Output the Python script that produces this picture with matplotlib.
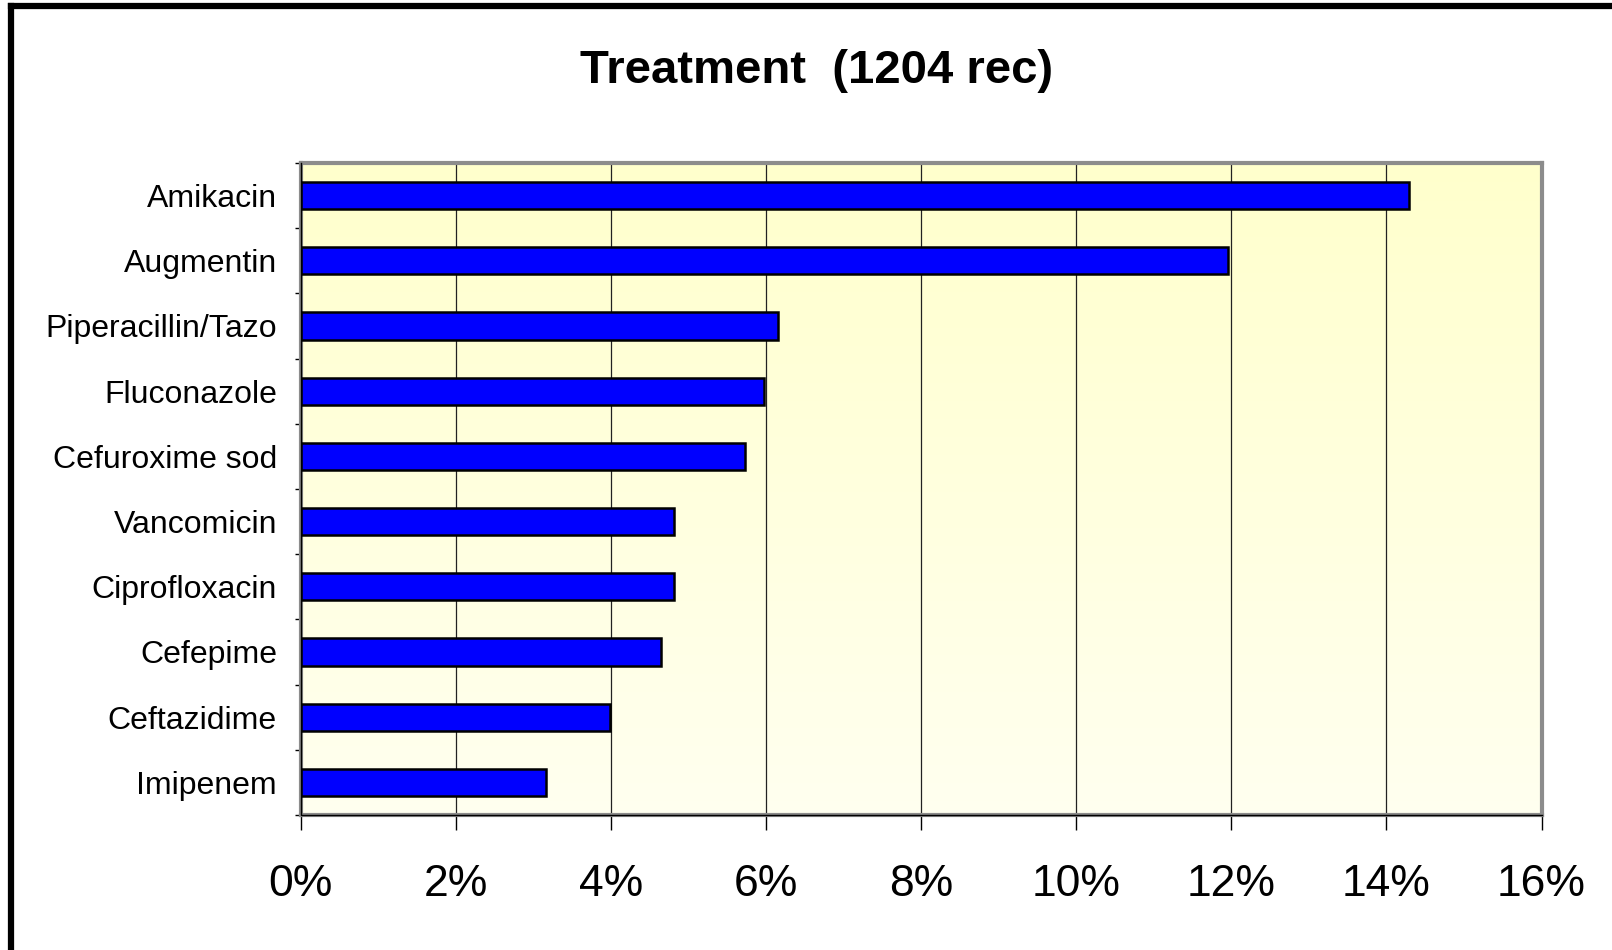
import matplotlib
matplotlib.use("Agg")
import matplotlib.pyplot as plt
from matplotlib.lines import Line2D
from matplotlib.ticker import PercentFormatter, FixedLocator
import numpy as np

plt.rcParams['font.family'] = ['Liberation Sans', 'DejaVu Sans']

drugs = ["Amikacin", "Augmentin", "Piperacillin/Tazo", "Fluconazole",
         "Cefuroxime sod", "Vancomicin", "Ciprofloxacin", "Cefepime",
         "Ceftazidime", "Imipenem"]
share = [14.29, 11.96, 6.15, 5.98, 5.73, 4.82, 4.82, 4.65, 3.99, 3.16]  # % of 1204 records
x_ticks = [0, 2, 4, 6, 8, 10, 12, 14, 16]

fig = plt.figure(figsize=(16.12, 9.5), dpi=100)
ax = fig.add_axes([300.5 / 1612, 135 / 950, 1241 / 1612, 652 / 950])

# pale yellow gradient behind the bars
grad = np.linspace(0, 1, 256).reshape(-1, 1)
top = np.array([1.0, 1.0, 0.80])
bottom = np.array([1.0, 1.0, 0.94])
img = top + (bottom - top) * grad[:, :, None]
ax.imshow(img, extent=[0, 1, 0, 1], transform=ax.transAxes, aspect='auto',
          zorder=0, interpolation='bilinear')

y = np.arange(len(drugs))
ax.barh(y, share, height=0.42, color='#0000FF', edgecolor='black',
        linewidth=1.8, zorder=3)

ax.set_xlim(0, 16)
ax.set_ylim(len(drugs) - 0.5, -0.5)

ax.set_xticks(x_ticks)
ax.xaxis.set_major_formatter(PercentFormatter(decimals=0))
ax.tick_params(axis='x', length=11, width=1, direction='out', pad=24,
               labelsize=32, color='black')
ax.grid(axis='x', color='#222222', linewidth=0.9, zorder=1)

ax.set_yticks(y)
ax.set_yticklabels(drugs)
ax.yaxis.set_minor_locator(FixedLocator(np.arange(-0.5, len(drugs), 1.0)))
ax.tick_params(axis='y', which='major', length=0, pad=17, labelsize=23)
ax.tick_params(axis='y', which='minor', length=4.5, width=1, direction='out',
               color='black')

# grey plot-area border with black axis lines on left and bottom
for s in ax.spines.values():
    s.set_color('#8c8c8c')
    s.set_linewidth(3)
ax.plot([0, 0, 1], [1, 0, 0], transform=ax.transAxes, color='black',
        linewidth=1, clip_on=False, zorder=5)

ax.set_axisbelow(True)

fig.text(817 / 1612, 1 - 83 / 950, "Treatment  (1204 rec)", ha='center',
         va='baseline', fontsize=34, fontweight='bold')

# outer chart frame (left and top edges)
fig.add_artist(Line2D([11 / 1612, 11 / 1612], [-0.05, 1 - 6 / 950],
                      transform=fig.transFigure, color='black', linewidth=4.5))
fig.add_artist(Line2D([11 / 1612, 1.05], [1 - 6 / 950, 1 - 6 / 950],
                      transform=fig.transFigure, color='black', linewidth=4.5))

fig.savefig("out.png", dpi=100)
